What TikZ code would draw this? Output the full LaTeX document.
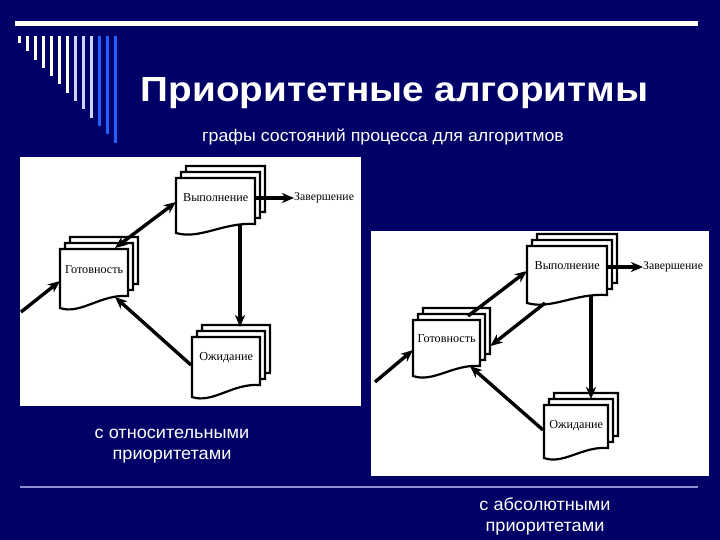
\documentclass[tikz,border=0pt]{standalone}
\usepackage{fontspec}
\setmainfont{Liberation Serif}
\setsansfont{Liberation Sans}
\usetikzlibrary{arrows.meta,calc}
\definecolor{bg}{HTML}{000066}
\definecolor{cream}{HTML}{FFFCE8}
\definecolor{lav}{HTML}{CCD4FF}
\definecolor{bblue}{HTML}{2060FF}
\definecolor{rule}{HTML}{9090D0}
\newcommand\docstack[8]{% name, x, y, w, hL, hR, text dy, text
  \foreach \dx/\dy in {10/-12,5/-6,0/0}{%
    \path[doc] ({#2+\dx},{#3+\dy}) -- ({#2+#4+\dx},{#3+\dy}) -- ({#2+#4+\dx},{#3+#6+\dy})
      .. controls ({#2+0.6*#4+\dx},{#3+#6+\dy-2}) and ({#2+0.3*#4+\dx},{#3+#5+7+\dy}) .. ({#2+\dx},{#3+#5+\dy}) -- cycle;}
  \node[box, minimum width=#4bp, minimum height=#5bp] (#1) at (#2,#3) {};
  \node[lbl] (#1-t) at ($(#1.center)+(0,#7)$) {#8};
}
\begin{document}
\begin{tikzpicture}[x=1bp,y=-1bp,
  doc/.style={draw=black, line width=2.2bp, fill=white, line join=miter},
  tip/.style={Stealth[length=12bp,width=10bp,inset=3.5bp]},
  conn/.style={line width=3.4bp, -{Stealth[length=12bp,width=10bp,inset=3.5bp]}},
  dconn/.style={line width=3.4bp, {Stealth[length=12bp,width=10bp,inset=3.5bp]}-{Stealth[length=12bp,width=10bp,inset=3.5bp]}},
  lbl/.style={font=\fontsize{12.2}{13}\selectfont, inner sep=0pt},
  zlbl/.style={font=\fontsize{11.8}{13}\selectfont, inner sep=0pt},
  box/.style={draw=none, inner sep=0pt, anchor=north west},
  bar/.style={line width=3.2bp},
  caption/.style={text=white, font=\sffamily\fontsize{17.5}{21}\selectfont, align=center, inner sep=0pt},
]
\fill[bg] (0,0) rectangle (720,540);
\useasboundingbox (0,0) rectangle (720,540);

% decoration
\fill[white] (15,21.5) rectangle (698,26.5);
\foreach \i in {1,...,13}{%
  \pgfmathsetmacro\bx{19.3+8*(\i-1)}
  \pgfmathsetmacro\by{43+8.3*(\i-1)}
  \ifnum\i<8 \def\bc{cream}\else\ifnum\i<11 \def\bc{lav}\else\def\bc{bblue}\fi\fi
  \draw[bar, draw=\bc] (\bx,36) -- (\bx,\by);
}
\draw[rule, line width=2.2bp] (20,487) -- (698,487);

% title
\node[text=white, font=\sffamily\bfseries\fontsize{35}{40}\selectfont, anchor=base, inner sep=0pt] (title) at (394.5,102) {\scalebox{1.11}[1]{Приоритетные алгоритмы}};
\node[text=white, font=\sffamily\fontsize{17}{20}\selectfont, anchor=base, inner sep=0pt] (sub) at (383,142) {\scalebox{1.05}[1]{графы состояний процесса для алгоритмов}};

% panels
\fill[white] (20,157) rectangle (361,406);
\fill[white] (371,231) rectangle (709,476);

% left diagram
\docstack{G1}{60}{249}{68}{59}{47}{-9}{Готовность}
\docstack{R1}{176}{178}{79}{55}{46}{-8}{Выполнение}
\docstack{W1}{192}{337}{68}{60}{48}{-10}{Ожидание}
\node[zlbl, anchor=west] (Z1) at (294,198) {Завершение};
\coordinate (in1) at (21,312);
\draw[conn] (in1) -- ($(G1.north west)+(0,32)$);
\draw[dconn] ($(G1.north west)+(55,-1)$) -- ($(R1.north west)+(0,24)$);
\draw[conn] ($(R1.north east)+(0,20)$) -- (Z1.west);
\draw[conn] ($(R1.north west)+(64,47)$) -- ($(W1.north west)+(48,-10)$);
\draw[conn] ($(W1.north west)+(-1,28)$) -- ($(G1.north west)+(55,48)$);

% right diagram
\docstack{G2}{413}{320}{67}{56}{46}{-10}{Готовность}
\docstack{R2}{527}{246}{80}{57}{49}{-9}{Выполнение}
\docstack{W2}{544}{405}{64}{53}{43}{-6}{Ожидание}
\node[zlbl, anchor=west] (Z2) at (643,267) {Завершение};
\coordinate (in2) at (375,382);
\draw[conn] (in2) -- ($(G2.north west)+(0,30)$);
\draw[conn] ($(G2.north west)+(55,-4)$) -- ($(R2.north west)+(0,25)$);
\draw[conn] ($(R2.north west)+(18,57)$) -- ($(G2.north east)+(10,26)$);
\draw[conn] ($(R2.north east)+(0,21)$) -- (Z2.west);
\draw[conn] ($(R2.north west)+(64,49)$) -- ($(W2.north west)+(47,-6)$);
\draw[conn] ($(W2.north west)+(-1,25)$) -- ($(G2.north west)+(57,46)$);

% captions
\node[caption] (cap1) at (172,446) {\scalebox{1.04}[1]{с относительными}\\\scalebox{1.04}[1]{приоритетами}};
\node[caption] (cap2) at (545,516) {\scalebox{1.04}[1]{с абсолютными}\\\scalebox{1.04}[1]{приоритетами}};
\end{tikzpicture}
\end{document}
